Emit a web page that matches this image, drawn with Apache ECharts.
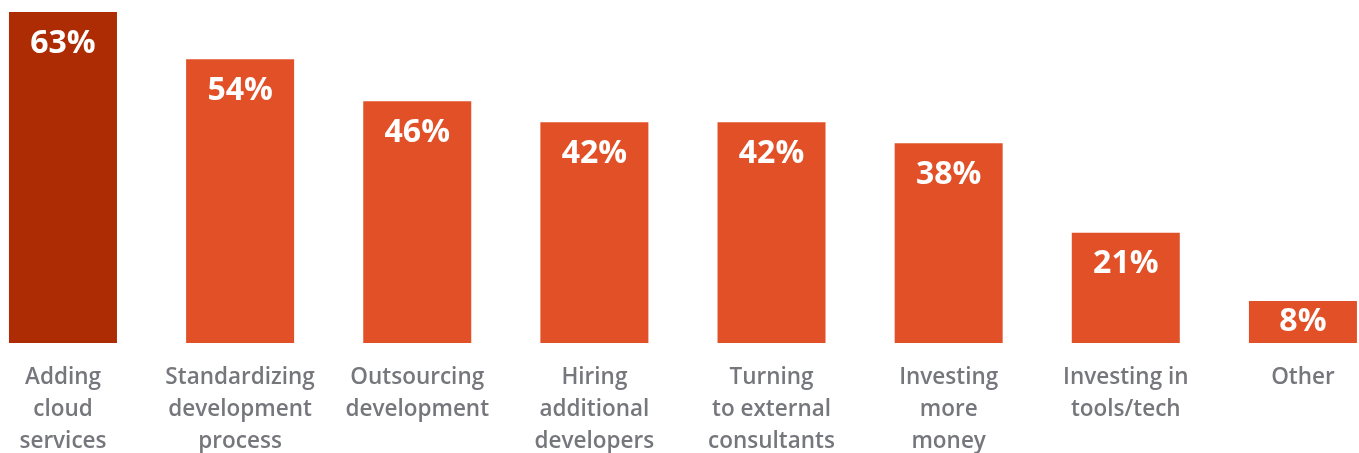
<!DOCTYPE html>
<html>
<head>
<meta charset="utf-8">
<script src="https://cdn.jsdelivr.net/npm/echarts@6/dist/echarts.min.js"></script>
<style>
  html, body { margin: 0; padding: 0; background: #ffffff; overflow: hidden; }
  #chart { width: 1359px; height: 453px; }
</style>
</head>
<body>
<div id="chart"></div>
<script>
// Categories and percentages
const categories = [
  'Adding\ncloud\nservices',
  'Standardizing\ndevelopment\nprocess',
  'Outsourcing\ndevelopment',
  'Hiring\nadditional\ndevelopers',
  'Turning\nto external\nconsultants',
  'Investing\nmore\nmoney',
  'Investing in\ntools/tech',
  'Other'
];
const values = [63, 54, 46, 42, 42, 38, 21, 8];
const highlightIndex = 0;

const chart = echarts.init(document.getElementById('chart'), null, { renderer: 'canvas' });

chart.setOption({
  backgroundColor: '#ffffff',
  animation: false,
  grid: {
    left: -25.6, top: 12, width: 1417.1, bottom: 110,
    containLabel: false,
    outerBoundsMode: 'none'
  },
  xAxis: {
    type: 'category',
    data: categories,
    axisLine: { show: false },
    axisTick: { show: false },
    axisLabel: {
      interval: 0,
      margin: 19,
      color: '#76777c',
      fontFamily: 'Open Sans',
      fontWeight: 600,
      fontSize: 22.5,
      lineHeight: 32
    }
  },
  yAxis: {
    type: 'value',
    min: 0,
    max: 63,
    show: false,
    splitLine: { show: false }
  },
  series: [{
    type: 'bar',
    barWidth: 108,
    data: values.map((v, i) => {
      const item = {
        value: v,
        itemStyle: { color: i === highlightIndex ? '#ad2c04' : '#e15027' }
      };
      // short bars get their label centred in the bar
      if (v < 15) item.label = { position: 'inside' };
      return item;
    }),
    label: {
      show: true,
      position: 'insideTop',
      distance: 15.5,
      color: '#ffffff',
      fontFamily: 'Open Sans',
      fontWeight: 'bold',
      fontSize: 32,
      lineHeight: 32,
      formatter: p => p.value + '%'
    }
  }]
});
</script>
</body>
</html>
